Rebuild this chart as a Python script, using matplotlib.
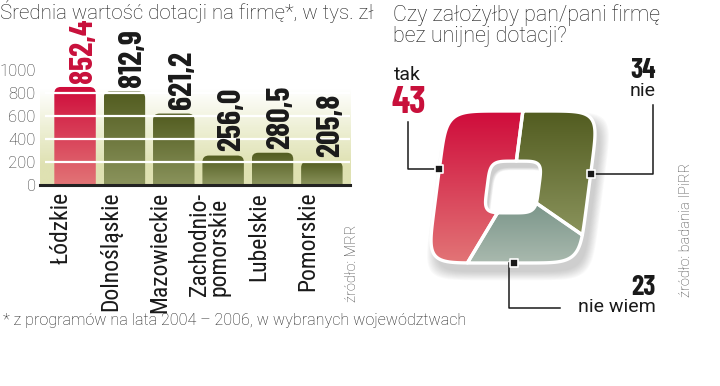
import numpy as np
import matplotlib
matplotlib.use("Agg")
import matplotlib.pyplot as plt
from matplotlib.patches import FancyBboxPatch, Polygon
from matplotlib.transforms import Affine2D, ScaledTranslation
from matplotlib.colors import to_rgb

# --- dane -------------------------------------------------------------
REGIONS = ["Łódzkie", "Dolnośląskie", "Mazowieckie", "Zachodnio-\npomorskie",
           "Lubelskie", "Pomorskie"]
GRANT = [852.4, 812.9, 621.2, 256.0, 280.5, 205.8]
GRANT_LABELS = ["852,4", "812,9", "621,2", "256,0", "280,5", "205,8"]
Y_TICKS = [0, 200, 400, 600, 800, 1000]

ANSWERS = ["tak", "nie wiem", "nie"]      # od góry, przeciwnie do zegara
SHARES = [43, 23, 34]

# --- style ------------------------------------------------------------
BOLDC = ["Barlow Condensed", "DejaVu Sans"]
COND = ["Roboto Condensed", "DejaVu Sans"]
REG = ["Roboto", "DejaVu Sans"]
RED = ("#cf0c3b", "#e27476")
GREEN = ("#525c20", "#8a935c")
GREY = ("#7b968a", "#a9b9ae")
SEG_COLORS = [RED, GREY, GREEN]
ANCHOR_ANG = [167, 278, 10]
INK = "#1a1a1a"


def vgrad(ax, extent, top, bottom, clip, z=2, n=64):
    c0, c1 = np.array(to_rgb(top)), np.array(to_rgb(bottom))
    t = np.linspace(0, 1, n)[:, None]
    img = (c0 * (1 - t) + c1 * t)[:, None, :]
    im = ax.imshow(img, extent=extent, origin="upper", aspect="auto",
                   interpolation="bilinear", zorder=z)
    im.set_clip_path(clip)
    return im


fig = plt.figure(figsize=(7.2, 3.86), dpi=100)
W, H = 720, 386

# --- wykres słupkowy ---------------------------------------------------
L, R, T, B = 40, 350, 70, 185
ax1 = fig.add_axes([L / W, 1 - B / H, (R - L) / W, (B - T) / H])
x = np.arange(len(GRANT))
XL = (-0.71, 5.57)
ax1.set_xlim(*XL)
ax1.set_ylim(0, 1000)
aspect = ((R - L) / (XL[1] - XL[0])) / ((B - T) / 1000)

ax1.imshow(np.array([[to_rgb("#ffffff")], [to_rgb("#eef0d6")], [to_rgb("#dfe1b2")]]),
           extent=(XL[0], XL[1], 0, 1000), origin="upper", aspect="auto",
           interpolation="bilinear", zorder=0)

bars = ax1.bar(x, GRANT, width=0.84, color="none", zorder=2)
for i, b in enumerate(bars):
    x0, w, h = b.get_x(), b.get_width(), b.get_height()
    patch = FancyBboxPatch((x0, -100), w, h + 100,
                           boxstyle="round,pad=0,rounding_size=0.13",
                           mutation_aspect=aspect, fc="none", ec="none",
                           transform=ax1.transData)
    ax1.add_patch(patch)
    top, bot = RED if i == 0 else GREEN
    vgrad(ax1, (x0, x0 + w, 0, h), top, bot, patch)
    ax1.annotate(GRANT_LABELS[i], (x[i], h), xytext=(6, 3), textcoords="offset points",
                 rotation=90, ha="center", va="bottom", fontsize=23,
                 fontweight="bold", family=BOLDC, zorder=6,
                 color="#c8103b" if i == 0 else INK, annotation_clip=False)

ax1.hlines(Y_TICKS[1:-1], XL[0] + 0.1, XL[1], color="white", lw=1.6, zorder=3)
for s in ["top", "right", "left"]:
    ax1.spines[s].set_visible(False)
ax1.spines["bottom"].set_linewidth(2.2)
ax1.spines["bottom"].set_color("#222222")
ax1.spines["bottom"].set_zorder(4)
ax1.set_yticks(Y_TICKS)
ax1.set_yticklabels([str(v) for v in Y_TICKS], family=REG, fontweight="light",
                    fontsize=12, color="#333333")
ax1.tick_params(axis="y", length=0, pad=3)
ax1.set_xticks(x, REGIONS, rotation=90, va="top", ha="center", linespacing=0.85,
               family=COND, fontsize=17, color=INK)
ax1.tick_params(axis="x", length=0, pad=5)
for lab in ax1.get_xticklabels():
    lab.set_multialignment("left")
    lab.set_transform(lab.get_transform() + ScaledTranslation(-0.14, 0, fig.dpi_scale_trans))

# --- nakładka w pikselach ----------------------------------------------
ov = fig.add_axes([0, 0, 1, 1], zorder=5)
ov.axis("off")
ov.patch.set_visible(False)

ov.text(0, 19, "Średnia wartość dotacji na firmę*, w tys. zł", family=REG,
        fontweight="light", fontsize=14.8, color=INK, va="baseline", ha="left")
ov.text(393, 21, "Czy założyłby pan/pani firmę", family=REG, fontweight="light",
        fontsize=15.5, color=INK, va="baseline", ha="left")
ov.text(393, 42, "bez unijnej dotacji?", family=REG, fontweight="light",
        fontsize=15.5, color=INK, va="baseline", ha="left")
ov.text(3, 325, "* z programów na lata 2004 – 2006, w wybranych województwach",
        family=REG, fontweight="light", fontsize=11.6, color=INK,
        va="baseline", ha="left")
ov.text(352, 302, "źródło: MRR", family=REG, fontweight="light", fontsize=10.5,
        color="#444444", rotation=90, ha="center", va="bottom")
ov.text(686, 297, "źródło: badania IPiRR", family=REG, fontweight="light",
        fontsize=10.5, color="#444444", rotation=90, ha="center", va="bottom")


# --- "kwadratowy pierścień" --------------------------------------------
def sq(th, n):
    return (np.abs(np.cos(th)) ** n + np.abs(np.sin(th)) ** n) ** (-1 / n)


def ring(a0, a1, r_in, steps=120):
    th = np.radians(np.linspace(a0, a1, steps))
    d = np.c_[np.cos(th), np.sin(th)]
    outer = d * sq(th, 7)[:, None]
    inner = (d * (r_in * sq(th, 5))[:, None])[::-1]
    return np.vstack([outer, inner])


CX, CY, HW = 513, 187, 76
SKEW = 7.4
R_IN = 0.34
shape_tf = Affine2D().skew_deg(SKEW, 0).scale(HW, -HW).translate(CX, CY)

# cień
full = ring(0, 360, R_IN, steps=240)
for k in range(10):
    s = 1.0 + 0.012 * k
    tf = Affine2D().skew_deg(SKEW, 0).scale(HW * s, -HW * s).translate(CX + 5, CY + 9)
    ov.add_patch(Polygon(full, closed=True, fc="#6a6a6a", ec="none", alpha=0.035,
                         transform=tf + ov.transData, zorder=1))

start = 90.0
for ans, share, (top, bot) in zip(ANSWERS, SHARES, SEG_COLORS):
    end = start + 360 * share / 100
    pts = ring(start, end, R_IN)
    poly = Polygon(pts, closed=True, fc="none", ec="none", transform=shape_tf + ov.transData)
    ov.add_patch(poly)
    pp = shape_tf.transform(pts)
    vgrad(ov, (pp[:, 0].min(), pp[:, 0].max(), pp[:, 1].max(), pp[:, 1].min()),
          top, bot, poly, z=2)
    ov.add_patch(Polygon(pts, closed=True, fc="none", ec="white", lw=2.4,
                         joinstyle="round", transform=shape_tf + ov.transData, zorder=3))
    start = end

ov.set_xlim(0, W)
ov.set_ylim(H, 0)

# odnośniki
anc = []
for ang in ANCHOR_ANG:
    t = np.radians(ang)
    anc.append(shape_tf.transform(np.array([np.cos(t), np.sin(t)]) * sq(t, 7)))
(rx, ry), (nx, ny), (gx, gy) = anc
ov.plot([rx, 408, 408], [ry, ry, 122], color=INK, lw=1.1, zorder=4)
ov.plot([gx, 653, 653], [gy, gy, 105], color=INK, lw=1.1, zorder=4)
ov.plot([nx - 5, nx - 5, 560], [ny, 308, 308], color=INK, lw=1.1, zorder=4)
ov.scatter([p[0] for p in anc], [p[1] for p in anc], marker="s", s=40,
           color=INK, edgecolor="white", linewidth=1.2, zorder=6)

ov.text(394, 80, "tak", family=REG, fontsize=14, color=INK, va="baseline")
ov.text(392, 113, str(SHARES[0]), family=BOLDC, fontsize=27, fontweight="bold",
        color="#c8103b", va="baseline")
ov.text(656, 78, str(SHARES[2]), family=BOLDC, fontsize=20, fontweight="bold",
        color=INK, va="baseline", ha="right")
ov.text(656, 96, "nie", family=REG, fontsize=14, color=INK, va="baseline", ha="right")
ov.text(656, 295, str(SHARES[1]), family=BOLDC, fontsize=20, fontweight="bold",
        color=INK, va="baseline", ha="right")
ov.text(656, 312, "nie wiem", family=REG, fontsize=14, color=INK,
        va="baseline", ha="right")

fig.savefig("out.png", dpi=100)
